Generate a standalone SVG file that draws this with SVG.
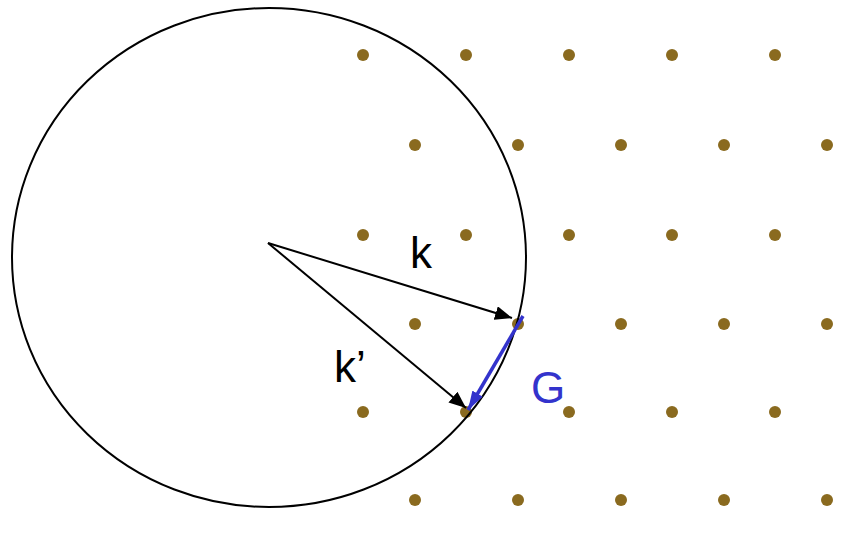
<svg xmlns="http://www.w3.org/2000/svg" width="847" height="548" viewBox="0 0 847 548">
<style>
.dot{fill:#8a6a1f}
.lbl{font-family:"Liberation Sans",Arial,sans-serif;font-size:44px}
</style>
<defs>
<marker id="ah" markerUnits="userSpaceOnUse" markerWidth="18" markerHeight="14" refX="17" refY="7" orient="auto">
<path d="M0,0 L17,7 L0,14 Z" fill="#000"/>
</marker>
<marker id="ahb" markerUnits="userSpaceOnUse" markerWidth="20" markerHeight="12" refX="19" refY="6" orient="auto">
<path d="M0,0 L19,6 L0,12 Z" fill="#3333cc"/>
</marker>
</defs>
<rect width="847" height="548" fill="#fff"/>
<g id="lattice">
<circle class="dot" cx="363" cy="55" r="6"/><circle class="dot" cx="466" cy="55" r="6"/><circle class="dot" cx="569" cy="55" r="6"/><circle class="dot" cx="672" cy="55" r="6"/><circle class="dot" cx="775" cy="55" r="6"/>
<circle class="dot" cx="415" cy="145" r="6"/><circle class="dot" cx="518" cy="145" r="6"/><circle class="dot" cx="621" cy="145" r="6"/><circle class="dot" cx="724" cy="145" r="6"/><circle class="dot" cx="827" cy="145" r="6"/>
<circle class="dot" cx="363" cy="235" r="6"/><circle class="dot" cx="466" cy="235" r="6"/><circle class="dot" cx="569" cy="235" r="6"/><circle class="dot" cx="672" cy="235" r="6"/><circle class="dot" cx="775" cy="235" r="6"/>
<circle class="dot" cx="415" cy="324" r="6"/><circle class="dot" cx="518" cy="324" r="6"/><circle class="dot" cx="621" cy="324" r="6"/><circle class="dot" cx="724" cy="324" r="6"/><circle class="dot" cx="827" cy="324" r="6"/>
<circle class="dot" cx="363" cy="412" r="6"/><circle class="dot" cx="466" cy="412" r="6"/><circle class="dot" cx="569" cy="412" r="6"/><circle class="dot" cx="672" cy="412" r="6"/><circle class="dot" cx="775" cy="412" r="6"/>
<circle class="dot" cx="415" cy="500" r="6"/><circle class="dot" cx="518" cy="500" r="6"/><circle class="dot" cx="621" cy="500" r="6"/><circle class="dot" cx="724" cy="500" r="6"/><circle class="dot" cx="827" cy="500" r="6"/>
</g>
<g id="sphere">
<ellipse cx="269" cy="257.5" rx="257" ry="249.5" fill="none" stroke="#000" stroke-width="2"/>
</g>
<g id="connectors">
<line x1="268" y1="243" x2="512" y2="318" stroke="#000" stroke-width="2" marker-end="url(#ah)"/>
<line x1="268" y1="243" x2="466" y2="408" stroke="#000" stroke-width="2" marker-end="url(#ah)"/>
<line x1="523" y1="316" x2="468" y2="410" stroke="#3333cc" stroke-width="3.5" marker-end="url(#ahb)"/>
</g>
<g id="labels">
<text class="lbl" x="410" y="268">k</text>
<text class="lbl" x="334" y="382">k’</text>
<text class="lbl" x="531" y="403" fill="#3333cc">G</text>
</g>
</svg>
